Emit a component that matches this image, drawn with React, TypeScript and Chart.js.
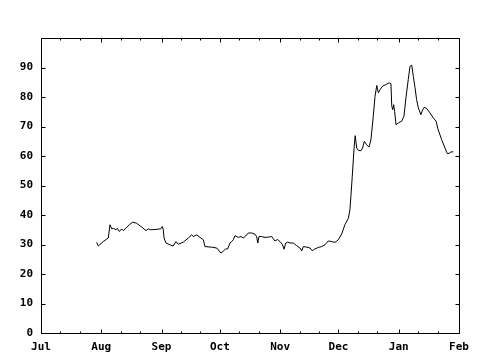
import React, { useEffect, useRef } from "react";
import { Chart, registerables } from "chart.js";

Chart.register(...registerables);

// Month tick labels and their day offsets (days since Jul 1)
const monthLabels = ["Jul", "Aug", "Sep", "Oct", "Nov", "Dec", "Jan", "Feb"];
const monthStartDays = [0, 31, 62, 92, 123, 153, 184, 215];
const minorTickOffsets = [10, 20];
const yTickValues = [0, 10, 20, 30, 40, 50, 60, 70, 80, 90, 100];

// Series: day offset since Jul 1, and value
const dayOffsets = [
  28.6, 29.5, 32.0, 34.6, 35.5, 36.4, 37.2, 38.6, 39.2, 40.3, 41.5, 42.3, 43.7, 45.4, 47.2, 49.2,
  51.8, 54.0, 55.2, 56.4, 58.6, 61.6, 62.4, 62.9, 63.3, 64.3, 66.3, 68.0, 69.4, 70.6, 73.2, 75.8,
  77.5, 78.3, 80.1, 81.8, 83.5, 84.3, 87.8, 90.4, 92.6, 93.8, 95.0, 96.0, 97.2, 98.1, 98.9, 99.8,
  101.5, 102.9, 104.0, 105.3, 106.6, 108.4, 110.1, 110.9, 111.5, 112.1, 113.5, 115.2, 116.9, 118.7,
  119.5, 120.4, 121.7, 122.9, 124.1, 125.0, 125.9, 126.9, 128.1, 129.8, 131.5, 133.2, 134.1, 134.9,
  136.7, 138.4, 139.5, 140.9, 142.6, 144.4, 146.1, 147.8, 149.5, 151.2, 152.9, 154.7, 156.3, 158.1,
  158.9, 159.4, 160.1, 161.1, 161.6, 162.4, 163.2, 164.6, 165.4, 166.3, 167.5, 168.7, 169.7, 170.9,
  171.8, 172.7, 173.5, 174.4, 175.5, 177.3, 179.1, 180.0, 180.4, 180.9, 181.4, 181.9, 182.6, 183.8,
  185.5, 186.7, 187.7, 188.9, 189.8, 190.7, 191.5, 192.4, 193.2, 194.1, 195.4, 196.3, 197.1, 198.4,
  200.1, 201.8, 203.2, 204.3, 206.1, 207.8, 209.0, 209.9, 210.9, 212.1,
];
const values = [
  30.7, 29.5, 31.0, 32.2, 36.7, 35.3, 35.5, 35.0, 35.5, 34.4, 35.3, 34.7, 35.5, 36.7, 37.6, 37.2,
  35.9, 34.7, 35.3, 35.0, 35.1, 35.3, 36.1, 35.0, 32.2, 30.5, 29.9, 29.5, 31.0, 30.1, 30.8, 32.2,
  33.3, 32.7, 33.3, 32.4, 31.6, 29.3, 29.1, 28.8, 27.1, 27.8, 28.5, 28.5, 30.5, 31.0, 31.6, 33.0,
  32.4, 32.7, 32.2, 32.9, 33.9, 33.9, 33.5, 32.7, 30.5, 32.7, 32.7, 32.4, 32.5, 32.7,
  31.9, 31.2, 31.7, 31.0, 30.1, 28.4, 30.5, 30.8, 30.5, 30.5, 29.6, 28.8, 27.8, 29.3,
  29.1, 28.8, 27.9, 28.5, 29.0, 29.3, 29.9, 31.2, 31.0, 30.7, 31.6, 33.6, 36.7, 38.9,
  41.8, 46.3, 53.1, 63.3, 66.9, 62.7, 61.9, 61.8, 62.7, 65.0, 63.8, 63.0, 65.5, 73.4,
  80.2, 83.9, 81.4, 82.5, 83.6, 84.2, 84.8, 84.5, 77.0, 75.7, 77.4, 75.1, 70.6, 71.2,
  71.8, 73.5, 79.7, 85.9, 90.4, 90.8, 87.0, 83.1, 79.1, 76.3, 74.0, 75.7, 76.5, 76.1,
  74.6, 72.9, 71.8, 68.9, 65.5, 62.7, 60.8, 60.9, 61.4, 61.4,
];

const FONT = { family: "'DejaVu Sans Mono', monospace", size: 11, weight: "bold" as const };

const boxTicksPlugin = {
  id: "boxTicks",
  afterDraw(chart: any) {
    const { ctx, chartArea: a, scales } = chart;
    const xs = scales.x;
    const ys = scales.y;
    const L = Math.round(a.left) + 0.5;
    const R = Math.round(a.right) + 0.5;
    const T = Math.round(a.top) + 0.5;
    const B = Math.round(a.bottom) + 0.5;
    ctx.save();
    ctx.strokeStyle = "#000";
    ctx.lineWidth = 1;
    ctx.beginPath();
    ctx.rect(L, T, R - L, B - T);
    const vtick = (d: number, len: number) => {
      const px = Math.round(xs.getPixelForValue(d)) + 0.5;
      ctx.moveTo(px, B);
      ctx.lineTo(px, B - len);
      ctx.moveTo(px, T);
      ctx.lineTo(px, T + len);
    };
    monthStartDays.forEach((d, i) => {
      vtick(d, 4);
      if (i < monthStartDays.length - 1) {
        minorTickOffsets.forEach((o) => vtick(d + o, 2));
      }
    });
    yTickValues.forEach((v) => {
      const py = Math.round(ys.getPixelForValue(v)) + 0.5;
      ctx.moveTo(L, py);
      ctx.lineTo(L + 4, py);
      ctx.moveTo(R, py);
      ctx.lineTo(R - 4, py);
    });
    ctx.stroke();
    ctx.restore();
  },
};

export default function App() {
  const canvasRef = useRef<HTMLCanvasElement | null>(null);

  useEffect(() => {
    document.body.style.margin = "0";
    const canvas = canvasRef.current;
    if (!canvas) return;
    const data = dayOffsets.map((d, i) => ({ x: d, y: values[i] }));
    const chart = new Chart(canvas, {
      type: "line",
      data: {
        datasets: [
          {
            data,
            borderColor: "#000",
            borderWidth: 1,
            pointRadius: 0,
            tension: 0,
            fill: false,
          },
        ],
      },
      options: {
        animation: false,
        responsive: false,
        devicePixelRatio: 1,
        layout: { padding: { top: 38, right: 21, left: 0, bottom: 0 }, autoPadding: false } as any,
        plugins: { legend: { display: false }, tooltip: { enabled: false } },
        scales: {
          x: {
            type: "linear",
            min: 0,
            max: 215,
            border: { display: false },
            grid: { display: false, drawTicks: false },
            afterBuildTicks: (scale: any) => {
              scale.ticks = monthStartDays.map((v) => ({ value: v }));
            },
            afterFit: (scale: any) => {
              scale.height = 27;
            },
            ticks: {
              autoSkip: false,
              maxRotation: 0,
              padding: 8,
              color: "#000",
              font: FONT,
              callback: (_v: any, i: number) => monthLabels[i],
            },
          },
          y: {
            type: "linear",
            min: 0,
            max: 100,
            border: { display: false },
            grid: { display: false, drawTicks: false },
            afterBuildTicks: (scale: any) => {
              scale.ticks = yTickValues.map((v) => ({ value: v }));
            },
            afterFit: (scale: any) => {
              scale.width = 41;
            },
            ticks: {
              padding: 8,
              color: "#000",
              font: FONT,
              callback: (v: any) => (v === 100 ? "" : String(v)),
            },
          },
        },
      },
      plugins: [boxTicksPlugin],
    });
    return () => chart.destroy();
  }, []);

  return (
    <div style={{ width: 480, height: 360, background: "#fff" }}>
      <canvas ref={canvasRef} width={480} height={360} style={{ display: "block" }} />
    </div>
  );
}
